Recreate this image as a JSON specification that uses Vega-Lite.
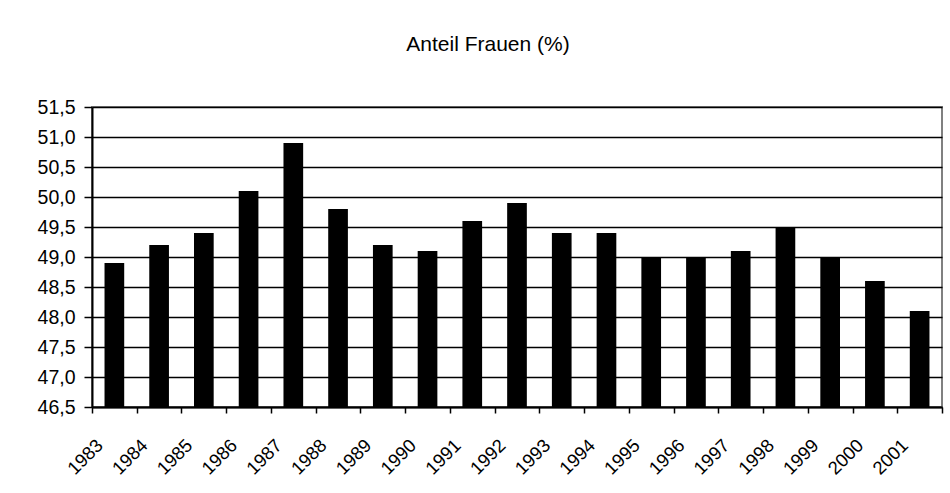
{
  "$schema": "https://vega.github.io/schema/vega-lite/v6.json",
  "width": 850,
  "height": 300,
  "autosize": {"type": "none"},
  "padding": {"left": 92, "top": 107, "right": 8, "bottom": 86},
  "background": "white",
  "title": {
    "text": "Anteil Frauen (%)",
    "font": "Liberation Sans",
    "fontSize": 21,
    "fontWeight": "normal",
    "color": "black",
    "anchor": "middle",
    "dx": -29,
    "offset": 42
  },
  "data": {
    "values": [
      {"Jahr": "1983", "Anteil": 48.9},
      {"Jahr": "1984", "Anteil": 49.2},
      {"Jahr": "1985", "Anteil": 49.4},
      {"Jahr": "1986", "Anteil": 50.1},
      {"Jahr": "1987", "Anteil": 50.9},
      {"Jahr": "1988", "Anteil": 49.8},
      {"Jahr": "1989", "Anteil": 49.2},
      {"Jahr": "1990", "Anteil": 49.1},
      {"Jahr": "1991", "Anteil": 49.6},
      {"Jahr": "1992", "Anteil": 49.9},
      {"Jahr": "1993", "Anteil": 49.4},
      {"Jahr": "1994", "Anteil": 49.4},
      {"Jahr": "1995", "Anteil": 49.0},
      {"Jahr": "1996", "Anteil": 49.0},
      {"Jahr": "1997", "Anteil": 49.1},
      {"Jahr": "1998", "Anteil": 49.5},
      {"Jahr": "1999", "Anteil": 49.0},
      {"Jahr": "2000", "Anteil": 48.6},
      {"Jahr": "2001", "Anteil": 48.1}
    ]
  },
  "mark": {"type": "bar", "color": "black", "width": {"band": 0.44}, "clip": true},
  "encoding": {
    "x": {
      "field": "Jahr",
      "type": "nominal",
      "sort": null,
      "scale": {"paddingInner": 0, "paddingOuter": 0},
      "axis": {
        "title": null,
        "tickBand": "extent",
        "labelAngle": -45,
        "labelAlign": "right",
        "labelBaseline": "middle",
        "labelOffset": -15,
        "labelPadding": 29,
        "labelFont": "Liberation Sans",
        "labelFontSize": 18.5,
        "labelColor": "black",
        "tickSize": 6,
        "tickColor": "black",
        "tickWidth": 1.5,
        "domainColor": "black",
        "domainWidth": 2,
        "grid": false
      }
    },
    "y": {
      "field": "Anteil",
      "type": "quantitative",
      "scale": {"domain": [46.5, 51.5], "zero": false, "nice": false},
      "axis": {
        "title": null,
        "values": [46.5, 47, 47.5, 48, 48.5, 49, 49.5, 50, 50.5, 51, 51.5],
        "format": ".1f",
        "labelFont": "Liberation Sans",
        "labelFontSize": 19.5,
        "labelColor": "black",
        "labelPadding": 9,
        "tickSize": 8,
        "tickColor": "black",
        "tickWidth": 1.5,
        "domainColor": "black",
        "domainWidth": 2,
        "grid": true,
        "gridColor": "black",
        "gridWidth": 1.3,
        "gridOpacity": 1
      }
    }
  },
  "config": {
    "locale": {
      "number": {
        "decimal": ",",
        "thousands": ".",
        "grouping": [3],
        "currency": ["", " €"]
      }
    },
    "view": {"stroke": "#808080", "strokeWidth": 2}
  }
}
